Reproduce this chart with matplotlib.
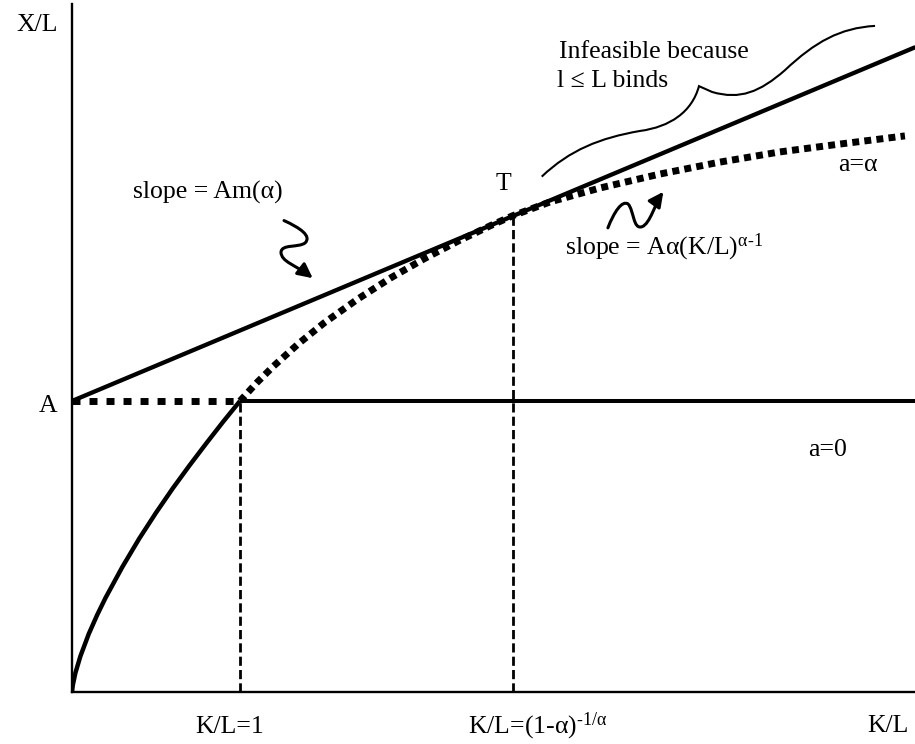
import matplotlib
matplotlib.use('Agg')
import matplotlib.pyplot as plt
from matplotlib.path import Path
from matplotlib.patches import PathPatch, FancyArrowPatch

plt.rcParams['font.family'] = ['Liberation Serif', 'DejaVu Serif']
plt.rcParams['mathtext.fontset'] = 'custom'
plt.rcParams['mathtext.rm'] = 'Liberation Serif'
plt.rcParams['mathtext.it'] = 'Liberation Serif'

# ---- data (K/L on x, X/L on y, A = 1) ----
A = 1.0
kl_one = 1.0
kl_T = 2.625
tangent_k = [0.0, 5.02]
tangent_y = [1.0, 2.216]

# a = 0 curve (solid up to K/L = 1)
a0_k = [0.0, 0.005, 0.02, 0.05, 0.1, 0.15, 0.2, 0.3, 0.4, 0.5, 0.6, 0.7, 0.8, 0.9, 1.0]
a0_y = [0.0, 0.024, 0.065, 0.123, 0.2, 0.265, 0.324, 0.430, 0.527, 0.616, 0.70, 0.779, 0.855, 0.929, 1.0]

# a = alpha curve (dotted)
aa_k = [1.0, 1.1, 1.2, 1.35, 1.5, 1.7, 1.9, 2.1, 2.3, 2.5, 2.625,
        2.845, 3.143, 3.5, 3.857, 4.214, 4.571, 4.958]
aa_y = [1.0, 1.063, 1.120, 1.198, 1.268, 1.350, 1.424, 1.490, 1.550, 1.605, 1.637,
        1.684, 1.732, 1.780, 1.821, 1.856, 1.883, 1.911]

# squiggle over the infeasible region (bezier vertices)
inf_k = [2.796, 2.964, 3.143, 3.381, 3.560, 3.690, 3.732, 3.810,
         3.976, 4.095, 4.244, 4.423, 4.571, 4.780]
inf_y = [1.771, 1.863, 1.904, 1.928, 1.942, 1.993, 2.082, 2.062,
         2.034, 2.062, 2.137, 2.234, 2.282, 2.289]
inf_codes = [Path.MOVETO] + [Path.CURVE4] * 6 + [Path.LINETO] + [Path.CURVE4] * 6

# wiggly arrows (bezier vertices)
arr1_k = [1.262, 1.357, 1.429, 1.387, 1.345, 1.250, 1.244, 1.244, 1.333, 1.433]
arr1_y = [1.620, 1.595, 1.567, 1.543, 1.526, 1.540, 1.512, 1.478, 1.467, 1.422]
arr2_k = [3.190, 3.226, 3.274, 3.310, 3.345, 3.339, 3.393, 3.440, 3.476, 3.520]
arr2_y = [1.595, 1.649, 1.691, 1.677, 1.656, 1.588, 1.599, 1.608, 1.684, 1.719]
arr_codes = [Path.MOVETO] + [Path.CURVE4] * 9

fig = plt.figure(figsize=(9.15, 7.44), dpi=100)
ax = fig.add_axes([72 / 915, 52 / 744, 843 / 915, 688 / 744])
ax.set_xlim(0, 843 / 168)
ax.set_ylim(0, 688 / 291)
for s in ['top', 'right']:
    ax.spines[s].set_visible(False)
for s in ['left', 'bottom']:
    ax.spines[s].set_linewidth(1.7)
ax.set_xticks([])
ax.set_yticks([])

# vertical guides
t_height = tangent_y[0] + (tangent_y[1] - tangent_y[0]) * kl_T / tangent_k[1]
ax.plot([kl_one, kl_one], [0, A], color='k', lw=2, dashes=(3.3, 1.5))
ax.plot([kl_T, kl_T], [0, t_height], color='k', lw=2, dashes=(3.3, 1.5))

# a = 0
ax.plot(a0_k, a0_y, color='k', lw=3.2, solid_capstyle='butt', solid_joinstyle='round')
ax.plot([kl_one, 5.1], [A, A], color='k', lw=2.9, solid_capstyle='butt')
ax.plot([0, kl_one], [A, A], color='k', lw=5, dashes=(1.15, 1.3), clip_on=False)

# tangent line
ax.plot(tangent_k, tangent_y, color='k', lw=3.1, solid_capstyle='butt')

# a = alpha
ax.plot(aa_k, aa_y, color='k', lw=5, dashes=(1.0, 0.75))

# annotations
ax.add_patch(PathPatch(Path(list(zip(inf_k, inf_y)), inf_codes),
                       fill=False, lw=1.5, edgecolor='k'))
for kk, yy in [(arr1_k, arr1_y), (arr2_k, arr2_y)]:
    ax.add_patch(FancyArrowPatch(path=Path(list(zip(kk, yy)), arr_codes),
                                 arrowstyle='-|>', mutation_scale=22,
                                 lw=2.2, color='k', transform=ax.transData))

fs = 18.5
ax.text(-0.208, 2.292, 'X/L', fontsize=fs, ha='center', va='center', clip_on=False)
ax.text(-0.143, 0.983, 'A', fontsize=fs, ha='center', va='center', clip_on=False)
ax.text(4.5, 0.832, 'a=0', fontsize=fs, ha='center', va='center')
ax.text(4.679, 1.811, 'a=α', fontsize=fs, ha='center', va='center')
ax.text(2.571, 1.746, 'T', fontsize=fs, ha='center', va='center')
ax.text(0.810, 1.715, 'slope = Am(α)', fontsize=fs, ha='center', va='center')
ax.text(2.935, 1.529, r'slope = Aα(K/L)$^{α\text{-}1}$', fontsize=fs, ha='left', va='center')
ax.text(2.899, 2.199, 'Infeasible because', fontsize=fs, ha='left', va='center')
ax.text(2.887, 2.100, 'l ≤ L binds', fontsize=fs, ha='left', va='center')
ax.text(0.940, -0.120, 'K/L=1', fontsize=fs, ha='center', va='center', clip_on=False)
ax.text(2.357, -0.117, r'K/L=(1-α)$^{\text{-}1/α}$', fontsize=fs, ha='left', va='center', clip_on=False)
ax.text(4.857, -0.117, 'K/L', fontsize=fs, ha='center', va='center', clip_on=False)

fig.savefig('out.png', dpi=100)
